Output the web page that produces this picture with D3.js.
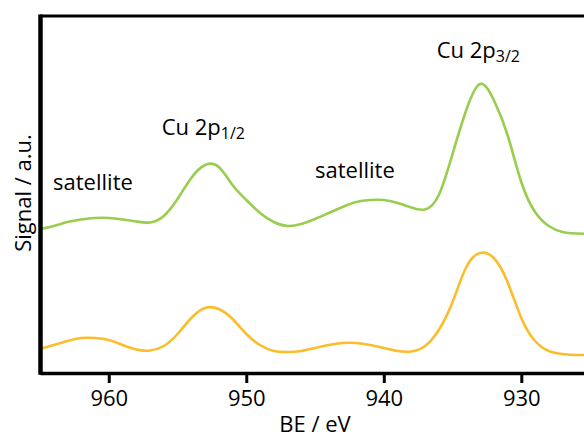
<!DOCTYPE html>
<html>
<head>
<meta charset="utf-8">
<script src="https://cdn.jsdelivr.net/npm/d3@7"></script>
<style>
  body { margin: 0; background: #fff; }
  text { font-family: "Open Sans", "Noto Sans", sans-serif; fill: #000; }
</style>
</head>
<body>
<svg width="584" height="437"></svg>
<script>
// binding energy (eV), one point per eV
const energy = d3.range(965, 924, -1);
// signal, arbitrary units
const upperSignal = [144, 147, 151, 153.5, 155, 155, 153.5, 151.5, 150.5, 157,
  174, 195, 208, 206, 188, 173, 160, 151, 147, 149,
  154, 160, 166, 171, 173, 173, 170, 165.5, 163.5, 178,
  219, 263, 289, 273, 238, 191, 161, 147, 141, 139.5, 139];
const lowerSignal = [24, 28, 32, 35, 35, 33, 28, 23.5, 22.5, 27,
  39, 55, 65, 64, 54, 39, 28, 22, 21, 22,
  25, 28, 30, 30, 28, 25, 22, 21.5, 27, 43,
  71, 106, 120, 115, 91, 55, 32, 22, 19, 18, 18];
const xTicks = [960, 950, 940, 930];
const labels = [
  { text: "satellite", e: 964.05, s: 183 },
  { text: "Cu 2p", sub: "1/2", e: 956.15, s: 238 },
  { text: "satellite", e: 945.0, s: 195 },
  { text: "Cu 2p", sub: "3/2", e: 936.15, s: 315 }
];

const svg = d3.select("svg");
const width = +svg.attr("width");
const height = +svg.attr("height");
const margin = { top: 16, right: 0, bottom: 64, left: 40 };

const xScale = d3.scaleLinear()
  .domain([965, 925.44])
  .range([margin.left, width - margin.right]);

const yScale = d3.scaleLinear()
  .domain([0, 357])
  .range([height - margin.bottom, margin.top]);

const line = (values) => d3.line()
  .x((d, i) => xScale(energy[i]))
  .y((d) => yScale(d))
  .curve(d3.curveNatural)(values);

const plot = svg.append("g");

plot.append("defs").append("clipPath").attr("id", "clip")
  .append("rect")
  .attr("x", margin.left).attr("y", 0)
  .attr("width", width - margin.left).attr("height", height);

const curves = plot.append("g").attr("clip-path", "url(#clip)");

curves.append("path")
  .attr("d", line(upperSignal))
  .attr("fill", "none")
  .attr("stroke", "#98cd4e")
  .attr("stroke-width", 2.6);

curves.append("path")
  .attr("d", line(lowerSignal))
  .attr("fill", "none")
  .attr("stroke", "#fbbd2c")
  .attr("stroke-width", 2.6);

// top frame line
plot.append("line")
  .attr("x1", margin.left).attr("x2", width)
  .attr("y1", margin.top).attr("y2", margin.top)
  .attr("stroke", "#000").attr("stroke-width", 3);

// bottom axis
const xAxisG = plot.append("g")
  .attr("transform", `translate(0, ${height - margin.bottom})`)
  .call(d3.axisBottom(xScale).tickValues(xTicks).tickSize(10).tickPadding(7).tickSizeOuter(0));

xAxisG.select(".domain").attr("stroke-width", 3.5);
xAxisG.selectAll(".tick line").attr("stroke-width", 3);
xAxisG.selectAll(".tick text")
  .attr("font-size", 22)
  .attr("font-family", "Open Sans, sans-serif");

// left axis line
plot.append("line")
  .attr("x1", margin.left + 0.5).attr("x2", margin.left + 0.5)
  .attr("y1", margin.top - 1.5).attr("y2", height - margin.bottom + 1.75)
  .attr("stroke", "#000").attr("stroke-width", 4.5);

svg.append("text")
  .attr("x", (margin.left + width) / 2 + 3)
  .attr("y", 432)
  .attr("text-anchor", "middle")
  .attr("font-size", 22)
  .text("BE / eV");

svg.append("text")
  .attr("transform", "translate(31, 193) rotate(-90)")
  .attr("text-anchor", "middle")
  .attr("font-size", 22)
  .text("Signal / a.u.");

labels.forEach((l) => {
  const t = svg.append("text")
    .attr("x", xScale(l.e))
    .attr("y", yScale(l.s))
    .attr("font-size", 22)
    .text(l.text);
  if (l.sub) {
    t.append("tspan")
      .attr("font-size", 16)
      .attr("dy", 4)
      .text(l.sub);
  }
});
</script>
</body>
</html>
